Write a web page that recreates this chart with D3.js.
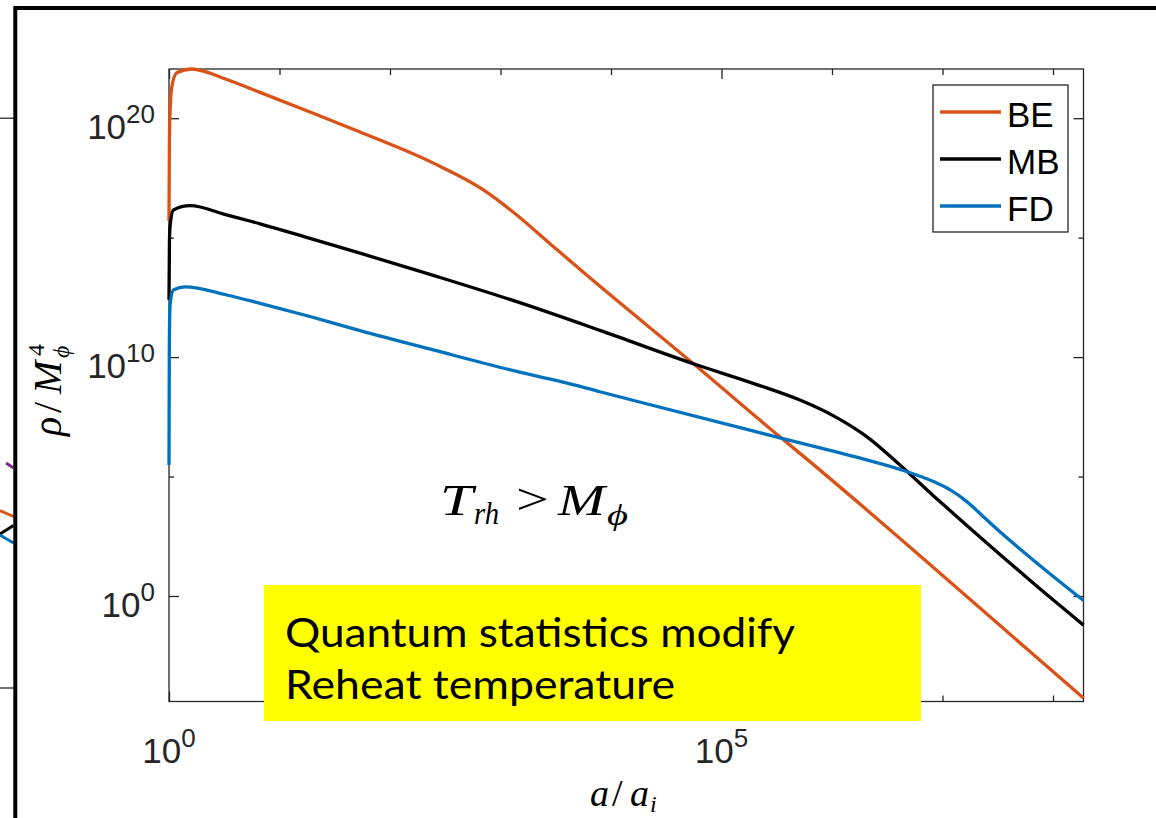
<!DOCTYPE html>
<html>
<head>
<meta charset="utf-8">
<script src="https://cdn.jsdelivr.net/npm/d3@7"></script>
<style>
  body { margin: 0; background: #fff; }
  svg { display: block; }
</style>
</head>
<body>
<div id="container"></div>
<script>
/* CONSTANTS AND GLOBALS */
const width = 1156,
  height = 818;

// plot box (pixels)
const plotLeft = 169, plotRight = 1083.5, plotTop = 69, plotBottom = 701.5;

// data, stored as log10 values
const logA_BE   = [0, 0.004, 0.01, 0.025, 0.07, 0.205, 0.522, 0.824, 1.276, 1.729, 2.392, 2.845, 3.147, 3.448, 3.75, 4.76, 5.545, 5.71, 7.76, 8.276];
const logRho_BE = [15.7, 19.2, 20.3, 21.3, 21.9, 22.06, 21.62, 21.08, 20.26, 19.42, 18.12, 17.0, 15.95, 14.75, 13.55, 9.67, 6.6, 5.97, -2.2, -4.27];

const logA_MB   = [0, 0.004, 0.01, 0.04, 0.19, 0.522, 0.824, 1.276, 1.729, 2.392, 3.147, 3.9, 4.76, 5.3, 5.71, 6.01, 6.314, 6.615, 6.917, 7.22, 7.52, 7.82, 8.276];
const logRho_MB = [12.4, 14.8, 15.5, 16.16, 16.34, 15.95, 15.58, 14.97, 14.35, 13.42, 12.32, 11.12, 9.7, 8.88, 8.2, 7.55, 6.67, 5.48, 4.2, 2.95, 1.74, 0.54, -1.22];

const logA_FD   = [0, 0.003, 0.01, 0.04, 0.145, 0.522, 0.824, 1.276, 1.729, 2.392, 3.147, 3.54, 3.9, 5.545, 5.71, 6.01, 6.314, 6.615, 6.917, 7.07, 7.22, 7.37, 7.52, 7.82, 8.276];
const logRho_FD = [5.48, 10.5, 12.2, 12.81, 12.94, 12.6, 12.25, 11.7, 11.11, 10.3, 9.4, 8.98, 8.55, 6.6, 6.41, 6.06, 5.7, 5.3, 4.79, 4.44, 3.95, 3.32, 2.69, 1.51, -0.19];

const seriesNames = ["BE", "MB", "FD"];
const seriesColors = ["#D95319", "#000000", "#0072BD"];

const xTickExps = [0, 1, 2, 3, 4, 5, 6, 7, 8];
const xLabelExps = [0, 5];
const yTickExps = [0, 5, 10, 15, 20];
const yLabelExps = [0, 10, 20];

// bits of the neighbouring panel peeking in on the left edge (its own units)
const neighbourSegs = [
  { color: "#7E2F8E", x: [0.45, 1], y: [0.03, 0.08] },
  { color: "#D95319", x: [0, 1], y: [0.505, 0.565] },
  { color: "#000000", x: [0, 1], y: [0.74, 0.655] },
  { color: "#0072BD", x: [0, 1], y: [0.75, 0.83] }
];

const series = seriesNames.map((name, i) => {
  const la = [logA_BE, logA_MB, logA_FD][i];
  const lr = [logRho_BE, logRho_MB, logRho_FD][i];
  return { name, color: seriesColors[i], values: la.map((d, j) => ({ a: Math.pow(10, d), rho: Math.pow(10, lr[j]) })) };
});

// 1. scales
const xScale = d3.scaleLog()
  .domain([1, Math.pow(10, 8.276)])
  .range([plotLeft, plotRight]);

const yScale = d3.scaleLog()
  .domain([Math.pow(10, -4.417), Math.pow(10, 22.06)])
  .range([plotBottom, plotTop]);

// 2. svg
const svg = d3.select("#container")
  .append("svg")
  .attr("width", width)
  .attr("height", height)
  .style("background", "#fff");

// outer slide frame + neighbour panel remnants
const nx = d3.scaleLinear().domain([0, 1]).range([0, 13.5]);
const ny = d3.scaleLinear().domain([0, 1]).range([460, 560]);

svg.append("g")
  .selectAll("line")
  .data(neighbourSegs)
  .join("line")
  .attr("x1", d => nx(d.x[0]))
  .attr("x2", d => nx(d.x[1]))
  .attr("y1", d => ny(d.y[0]))
  .attr("y2", d => ny(d.y[1]))
  .attr("stroke", d => d.color)
  .attr("stroke-width", 3);

svg.append("g")
  .selectAll("line")
  .data([yScale(1e20), 688])
  .join("line")
  .attr("x1", 0).attr("x2", 14)
  .attr("y1", d => d).attr("y2", d => d)
  .attr("stroke", "#262626")
  .attr("stroke-width", 1.3);

svg.append("path")
  .attr("d", `M15.3,${height} V8 H${width}`)
  .attr("fill", "none")
  .attr("stroke", "#000")
  .attr("stroke-width", 4);

// 3. axes (ticks point inward, box on all four sides)
const xTicks = xTickExps.map(e => Math.pow(10, e));
const yTicks = yTickExps.map(e => Math.pow(10, e));
const xLen = v => xLabelExps.includes(Math.round(Math.log10(v))) ? 10 : 6;
const yLen = v => yLabelExps.includes(Math.round(Math.log10(v))) ? 10 : 5;

function styleAxis(g, lenFn, sign, attr) {
  g.select(".domain").remove();
  g.selectAll(".tick line")
    .attr("stroke", "#262626")
    .attr("stroke-width", 1.3)
    .attr(attr, d => sign * lenFn(d));
  g.selectAll(".tick text").remove();
}

svg.append("g")
  .attr("transform", `translate(0, ${plotBottom})`)
  .call(d3.axisBottom(xScale).tickValues(xTicks).tickFormat(""))
  .call(g => styleAxis(g, xLen, -1, "y2"));

svg.append("g")
  .attr("transform", `translate(0, ${plotTop})`)
  .call(d3.axisTop(xScale).tickValues(xTicks).tickFormat(""))
  .call(g => styleAxis(g, xLen, 1, "y2"));

svg.append("g")
  .attr("transform", `translate(${plotLeft}, 0)`)
  .call(d3.axisLeft(yScale).tickValues(yTicks).tickFormat(""))
  .call(g => styleAxis(g, yLen, 1, "x2"));

svg.append("g")
  .attr("transform", `translate(${plotRight}, 0)`)
  .call(d3.axisRight(yScale).tickValues(yTicks).tickFormat(""))
  .call(g => styleAxis(g, yLen, -1, "x2"));

svg.append("rect")
  .attr("x", plotLeft).attr("y", plotTop)
  .attr("width", plotRight - plotLeft).attr("height", plotBottom - plotTop)
  .attr("fill", "none")
  .attr("stroke", "#262626")
  .attr("stroke-width", 1.3);

// tick labels 10^n
function powLabel(sel, e) {
  sel.append("tspan").text("10");
  sel.append("tspan").attr("font-size", 26).attr("dy", -16).text(e);
}

svg.append("g")
  .selectAll("text")
  .data(xLabelExps)
  .join("text")
  .attr("x", d => xScale(Math.pow(10, d)))
  .attr("y", 763)
  .attr("text-anchor", "middle")
  .attr("font-family", "Liberation Sans, Arial, sans-serif")
  .attr("font-size", 35)
  .attr("fill", "#262626")
  .each(function(d) { powLabel(d3.select(this), d); });

svg.append("g")
  .selectAll("text")
  .data(yLabelExps)
  .join("text")
  .attr("x", 155)
  .attr("y", d => yScale(Math.pow(10, d)) + 21)
  .attr("text-anchor", "end")
  .attr("font-family", "Liberation Sans, Arial, sans-serif")
  .attr("font-size", 35)
  .attr("fill", "#262626")
  .each(function(d) { powLabel(d3.select(this), d); });

// axis titles (LaTeX-like italic)
const yTitle = svg.append("g")
  .attr("transform", "translate(61, 436) rotate(-90)")
  .attr("font-family", "Liberation Serif, Times New Roman, serif")
  .attr("font-style", "italic")
  .attr("fill", "#000");
yTitle.append("text").attr("x", 0).attr("font-size", 40).text("ρ");
yTitle.append("text").attr("x", 23).attr("font-size", 40).attr("font-style", "normal").text("/");
yTitle.append("text").attr("x", 42).attr("font-size", 40).text("M");
yTitle.append("text").attr("x", 80).attr("y", -17).attr("font-size", 24).attr("font-style", "normal").text("4");
yTitle.append("text").attr("x", 78).attr("y", 8).attr("font-size", 24).text("ϕ");

const xTitle = svg.append("g")
  .attr("font-family", "Liberation Serif, Times New Roman, serif")
  .attr("font-style", "italic")
  .attr("fill", "#000");
xTitle.append("text").attr("x", 590).attr("y", 806).attr("font-size", 38).text("a");
xTitle.append("text").attr("x", 612).attr("y", 806).attr("font-size", 38).attr("font-style", "normal").text("/");
xTitle.append("text").attr("x", 630).attr("y", 806).attr("font-size", 38).text("a");
xTitle.append("text").attr("x", 650).attr("y", 812).attr("font-size", 24).text("i");

// 4. lines
const line = d3.line()
  .x(d => xScale(d.a))
  .y(d => yScale(d.rho))
  .curve(d3.curveMonotoneX);

svg.append("g")
  .selectAll("path")
  .data(series)
  .join("path")
  .attr("d", d => line(d.values))
  .attr("fill", "none")
  .attr("stroke", d => d.color)
  .attr("stroke-width", 3.3)
  .attr("stroke-linejoin", "round");

// 5. legend
const legend = svg.append("g");
legend.append("rect")
  .attr("x", 933).attr("y", 85)
  .attr("width", 135).attr("height", 147)
  .attr("fill", "#fff")
  .attr("stroke", "#262626")
  .attr("stroke-width", 1.3);

const legendY = d3.scalePoint().domain(seriesNames).range([112, 206]);
const items = legend.selectAll("g.item")
  .data(series)
  .join("g")
  .attr("class", "item")
  .attr("transform", d => `translate(0, ${legendY(d.name)})`);
items.append("line")
  .attr("x1", 940).attr("x2", 1001)
  .attr("stroke", d => d.color)
  .attr("stroke-width", 3.3);
items.append("text")
  .attr("x", 1007)
  .attr("y", 14.5)
  .attr("font-family", "Liberation Sans, Arial, sans-serif")
  .attr("font-size", 35)
  .attr("fill", "#000")
  .text(d => d.name);

// 6. annotation T_rh > M_phi
const ann = svg.append("g")
  .attr("font-family", "Liberation Serif, Times New Roman, serif")
  .attr("font-style", "italic")
  .attr("fill", "#000");
ann.append("text").attr("x", 440).attr("y", 515).attr("font-size", 45)
  .attr("textLength", 33).attr("lengthAdjust", "spacingAndGlyphs").text("T");
ann.append("text").attr("x", 474).attr("y", 524).attr("font-size", 31)
  .attr("textLength", 25).attr("lengthAdjust", "spacingAndGlyphs").text("rh");
ann.append("text").attr("x", 516).attr("y", 514).attr("font-size", 44)
  .attr("font-style", "normal")
  .attr("textLength", 33).attr("lengthAdjust", "spacingAndGlyphs").text(">");
ann.append("text").attr("x", 558).attr("y", 515).attr("font-size", 45)
  .attr("textLength", 47).attr("lengthAdjust", "spacingAndGlyphs").text("M");
ann.append("text").attr("x", 607).attr("y", 525).attr("font-size", 30)
  .attr("textLength", 21).attr("lengthAdjust", "spacingAndGlyphs").text("ϕ");

// 7. yellow call-out box
svg.append("rect")
  .attr("x", 264).attr("y", 585)
  .attr("width", 657).attr("height", 136)
  .attr("fill", "#FFFF00");

const callout = ["Quantum statistics modify", "Reheat temperature"];
const calloutWidths = [510, 390];
svg.append("g")
  .selectAll("text")
  .data(callout)
  .join("text")
  .attr("x", 285)
  .attr("y", (d, i) => 647 + i * 52)
  .attr("font-family", "Lato, Open Sans, sans-serif")
  .attr("font-size", 41)
  .attr("fill", "#000")
  .attr("textLength", (d, i) => calloutWidths[i])
  .attr("lengthAdjust", "spacingAndGlyphs")
  .text(d => d);
</script>
</body>
</html>
